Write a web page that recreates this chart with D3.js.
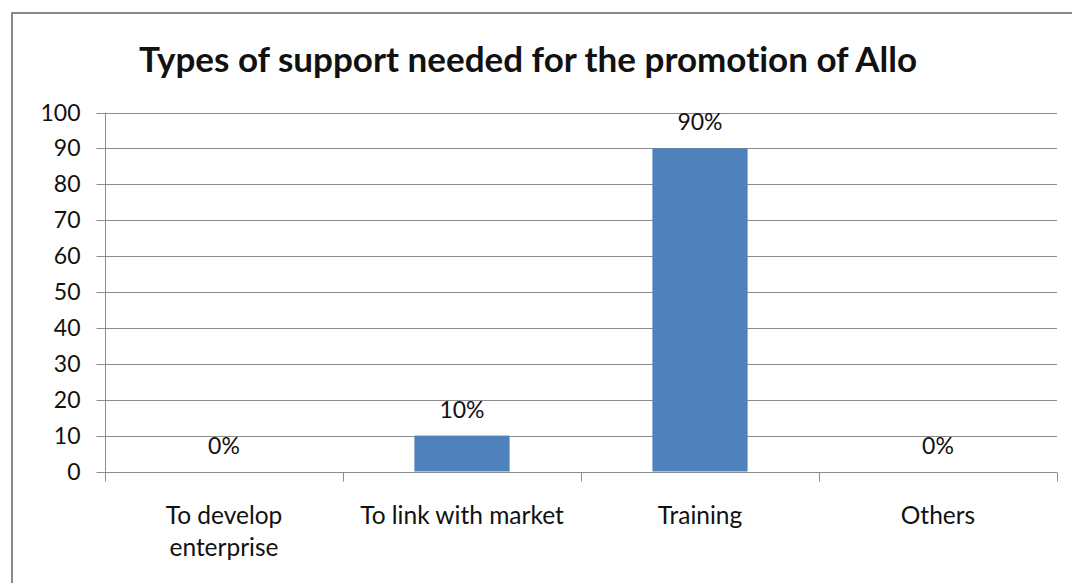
<!DOCTYPE html>
<html>
<head>
<meta charset="utf-8">
<script src="https://cdn.jsdelivr.net/npm/d3@7"></script>
<style>
  html, body { margin: 0; padding: 0; background: #fff; }
  svg { display: block; }
  text { font-family: Lato, "Open Sans", "Liberation Sans", sans-serif; fill: #111; font-variant-ligatures: none; }
</style>
</head>
<body>
<svg id="chart" width="1072" height="583"></svg>
<script>
// Chart data
const categories = ["To develop enterprise", "To link with market", "Training", "Others"];
const categoryLines = [["To develop", "enterprise"], ["To link with market"], ["Training"], ["Others"]];
const values = [0, 10, 90, 0];
const valueLabels = ["0%", "10%", "90%", "0%"];
const yTicks = [0, 10, 20, 30, 40, 50, 60, 70, 80, 90, 100];
const title = "Types of support needed for the promotion of Allo";

const svg = d3.select("#chart");
const W = 1072, H = 583;
const plot = { left: 105, right: 1057, top: 112.5, bottom: 471.5 };

// Outer chart frame
svg.append("rect")
  .attr("x", 12).attr("y", 13)
  .attr("width", W + 10).attr("height", H + 10)
  .attr("fill", "#fff")
  .attr("stroke", "#8a8a8a").attr("stroke-width", 2);

const x = d3.scaleBand().domain(categories).range([plot.left, plot.right]).padding(0);
const y = d3.scaleLinear().domain([0, 100]).range([plot.bottom, plot.top]);

// Horizontal gridlines
svg.append("g").selectAll("line").data(yTicks.filter(d => d > 0)).join("line")
  .attr("x1", plot.left).attr("x2", plot.right)
  .attr("y1", d => Math.round(y(d)) + 0.5).attr("y2", d => Math.round(y(d)) + 0.5)
  .attr("stroke", "#8c8c8c").attr("stroke-width", 1);

// Y axis
const yAxis = svg.append("g")
  .attr("transform", `translate(${plot.left + 0.5},0)`)
  .call(d3.axisLeft(y).tickValues(yTicks).tickSize(9).tickPadding(16));
yAxis.select(".domain").attr("stroke", "#8c8c8c").attr("d", `M0,${plot.top}V${plot.bottom}`);
yAxis.selectAll(".tick line").attr("stroke", "#8c8c8c");
yAxis.selectAll(".tick text")
  .attr("font-size", 23).attr("fill", "#111")
  .style("font-family", 'Lato, "Open Sans", sans-serif');
yAxis.selectAll(".tick").attr("transform", d => `translate(0,${Math.round(y(d)) + 0.5})`);

// X axis baseline and category dividers
const xBase = Math.round(y(0)) + 0.5;
svg.append("line")
  .attr("x1", plot.left).attr("x2", plot.right)
  .attr("y1", xBase).attr("y2", xBase)
  .attr("stroke", "#8c8c8c");
const boundaries = categories.map(c => x(c)).concat([plot.right]);
svg.append("g").selectAll("line").data(boundaries).join("line")
  .attr("x1", d => Math.round(d) + 0.5).attr("x2", d => Math.round(d) + 0.5)
  .attr("y1", xBase).attr("y2", xBase + 9)
  .attr("stroke", "#8c8c8c");

// Bars
const barW = x.bandwidth() * 0.4;
svg.append("g").selectAll("rect").data(values).join("rect")
  .attr("x", (d, i) => x(categories[i]) + (x.bandwidth() - barW) / 2)
  .attr("y", d => y(d))
  .attr("width", barW)
  .attr("height", d => y(0) - y(d))
  .attr("fill", "#4f81bd");

// Value labels
svg.append("g").selectAll("text").data(values).join("text")
  .attr("x", (d, i) => x(categories[i]) + x.bandwidth() / 2)
  .attr("y", d => y(d) - 18)
  .attr("text-anchor", "middle")
  .attr("font-size", 23)
  .text((d, i) => valueLabels[i]);

// Category labels
const catG = svg.append("g").selectAll("text").data(categories).join("text")
  .attr("x", d => x(d) + x.bandwidth() / 2)
  .attr("y", 524)
  .attr("text-anchor", "middle")
  .attr("font-size", 24.5);
catG.each(function(d, i) {
  const t = d3.select(this);
  categoryLines[i].forEach((line, j) => {
    t.append("tspan")
      .attr("x", x(d) + x.bandwidth() / 2)
      .attr("dy", j === 0 ? 0 : 32)
      .text(line);
  });
});

// Title
svg.append("text")
  .attr("x", 528).attr("y", 72)
  .attr("text-anchor", "middle")
  .attr("font-size", 35).attr("font-weight", "bold")
  .attr("fill", "#000")
  .text(title);
</script>
</body>
</html>
